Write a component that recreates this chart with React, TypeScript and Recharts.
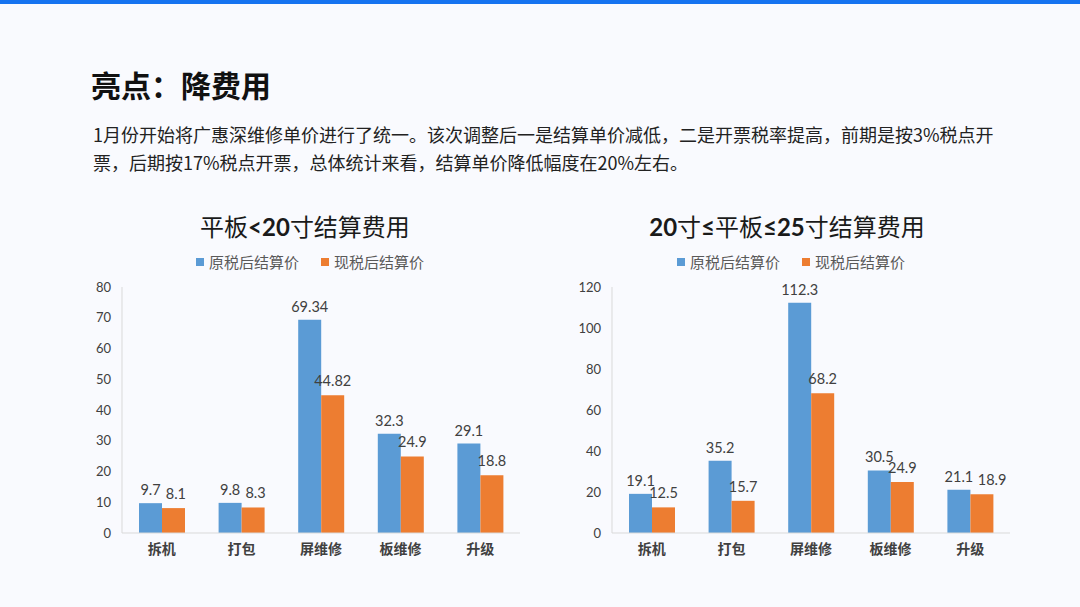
import React from "react";
import { BarChart, Bar, XAxis, YAxis, LabelList } from "recharts";

const categories = ["拆机", "打包", "屏维修", "板维修", "升级"];
const seriesNames = ["原税后结算价", "现税后结算价"];
const seriesColors = ["#5b9bd5", "#ed7d31"];

const leftOriginal = [9.7, 9.8, 69.34, 32.3, 29.1];
const leftCurrent = [8.1, 8.3, 44.82, 24.9, 18.8];
const leftTicks = [0, 10, 20, 30, 40, 50, 60, 70, 80];

const rightOriginal = [19.1, 35.2, 112.3, 30.5, 21.1];
const rightCurrent = [12.5, 15.7, 68.2, 24.9, 18.9];
const rightTicks = [0, 20, 40, 60, 80, 100, 120];

const pageTitle = "亮点：降费用";
const paragraphLines = [
  "1月份开始将广惠深维修单价进行了统一。该次调整后一是结算单价减低，二是开票税率提高，前期是按3%税点开",
  "票，后期按17%税点开票，总体统计来看，结算单价降低幅度在20%左右。",
];

const cjk = '"Noto Sans CJK SC", "Noto Sans", sans-serif';
const num = 'Lato, "Noto Sans", sans-serif';

function build(a: number[], b: number[]) {
  return categories.map((c, i) => ({ name: c, a: a[i], b: b[i] }));
}

function Legend({ cx, top }: { cx: number; top: number }) {
  return (
    <div
      style={{
        position: "absolute",
        left: cx - 200,
        width: 400,
        top,
        display: "flex",
        justifyContent: "center",
        alignItems: "center",
        fontFamily: cjk,
        fontSize: 15,
        color: "#595959",
        lineHeight: "20px",
      }}
    >
      {seriesNames.map((n, i) => (
        <div key={n} style={{ display: "flex", alignItems: "center", marginLeft: i ? 22 : 0 }}>
          <div style={{ width: 8, height: 8, background: seriesColors[i], marginRight: 5 }} />
          <span>{n}</span>
        </div>
      ))}
    </div>
  );
}

const labelStyle = { fill: "#404040", fontSize: 14.5, fontFamily: num };

// Label for the second series: nudged right when it would collide with the first series' label
function makeSecondLabel(data: any[], max: number, plotH: number) {
  return (props: any) => {
    const { x, y, width, value, index } = props;
    const row = data[index];
    const charW = 7.8;
    const wa = String(row.a).length * charW;
    const wb = String(value).length * charW;
    const dyPx = (Math.abs(row.a - row.b) / max) * plotH;
    const need = wa / 2 + wb / 2 + 2 - width;
    const dx = dyPx < 11 && need > 0 ? need : 0;
    return (
      <text x={x + width / 2 + dx} y={y - 9} textAnchor="middle" style={labelStyle}>
        {value}
      </text>
    );
  };
}

function Chart({ data, ticks, max, left }: { data: any[]; ticks: number[]; max: number; left: number }) {
  return (
    <div style={{ position: "absolute", left, top: 270 }}>
      <BarChart
        width={500}
        height={310}
        data={data}
        margin={{ top: 17, right: 20, bottom: 17, left: 0 }}
        barGap={0}
        barSize={23}
      >
        <XAxis
          dataKey="name"
          axisLine={{ stroke: "#d9d9d9", strokeWidth: 1 }}
          tickLine={false}
          tickSize={0}
          tickMargin={11}
          height={30}
          interval={0}
          tick={{ fill: "#404040", fontSize: 14, fontFamily: cjk, fontWeight: 600 }}
        />
        <YAxis
          domain={[0, max]}
          ticks={ticks}
          width={82}
          axisLine={{ stroke: "#d9d9d9", strokeWidth: 1 }}
          tickLine={false}
          tickSize={0}
          tickMargin={11}
          tick={{ fill: "#404040", fontSize: 13, fontFamily: num }}
        />
        <Bar dataKey="a" name={seriesNames[0]} fill={seriesColors[0]} isAnimationActive={false}>
          <LabelList dataKey="a" position="top" offset={8} style={labelStyle} />
        </Bar>
        <Bar dataKey="b" name={seriesNames[1]} fill={seriesColors[1]} isAnimationActive={false}>
          <LabelList dataKey="b" content={makeSecondLabel(data, max, 246)} />
        </Bar>
      </BarChart>
    </div>
  );
}

const B = ({ children }: { children: React.ReactNode }) => (
  <span style={{ fontWeight: 700, fontFamily: num }}>{children}</span>
);

export default function App() {
  return (
    <div
      style={{
        position: "fixed",
        left: 0,
        top: 0,
        width: 1080,
        height: 607,
        background: "#f9fafe",
        overflow: "hidden",
      }}
    >
      <div style={{ position: "absolute", left: 0, top: 0, width: 1080, height: 4, background: "#1673f0" }} />
      <div
        style={{
          position: "absolute",
          left: 91,
          top: 63,
          fontFamily: cjk,
          fontWeight: 700,
          fontSize: 30,
          lineHeight: "42px",
          color: "#111",
        }}
      >
        {pageTitle}
      </div>
      <div
        style={{
          position: "absolute",
          left: 93,
          top: 120,
          fontFamily: cjk,
          fontSize: 18,
          lineHeight: "28px",
          color: "#222",
          whiteSpace: "nowrap",
        }}
      >
        {paragraphLines.map((l) => (
          <div key={l}>{l}</div>
        ))}
      </div>

      <div
        style={{
          position: "absolute",
          left: 105,
          width: 400,
          top: 210,
          textAlign: "center",
          fontFamily: cjk,
          fontSize: 24,
          lineHeight: "32px",
          color: "#1a1a1a",
        }}
      >
        平板<B>&lt;20</B>寸结算费用
      </div>
      <Legend cx={310} top={252} />
      <Chart data={build(leftOriginal, leftCurrent)} ticks={leftTicks} max={80} left={40} />

      <div
        style={{
          position: "absolute",
          left: 587,
          width: 400,
          top: 210,
          textAlign: "center",
          fontFamily: cjk,
          fontSize: 24,
          lineHeight: "32px",
          color: "#1a1a1a",
        }}
      >
        <B>20</B>寸<B>≤</B>平板<B>≤25</B>寸结算费用
      </div>
      <Legend cx={791} top={252} />
      <Chart data={build(rightOriginal, rightCurrent)} ticks={rightTicks} max={120} left={530} />
    </div>
  );
}
